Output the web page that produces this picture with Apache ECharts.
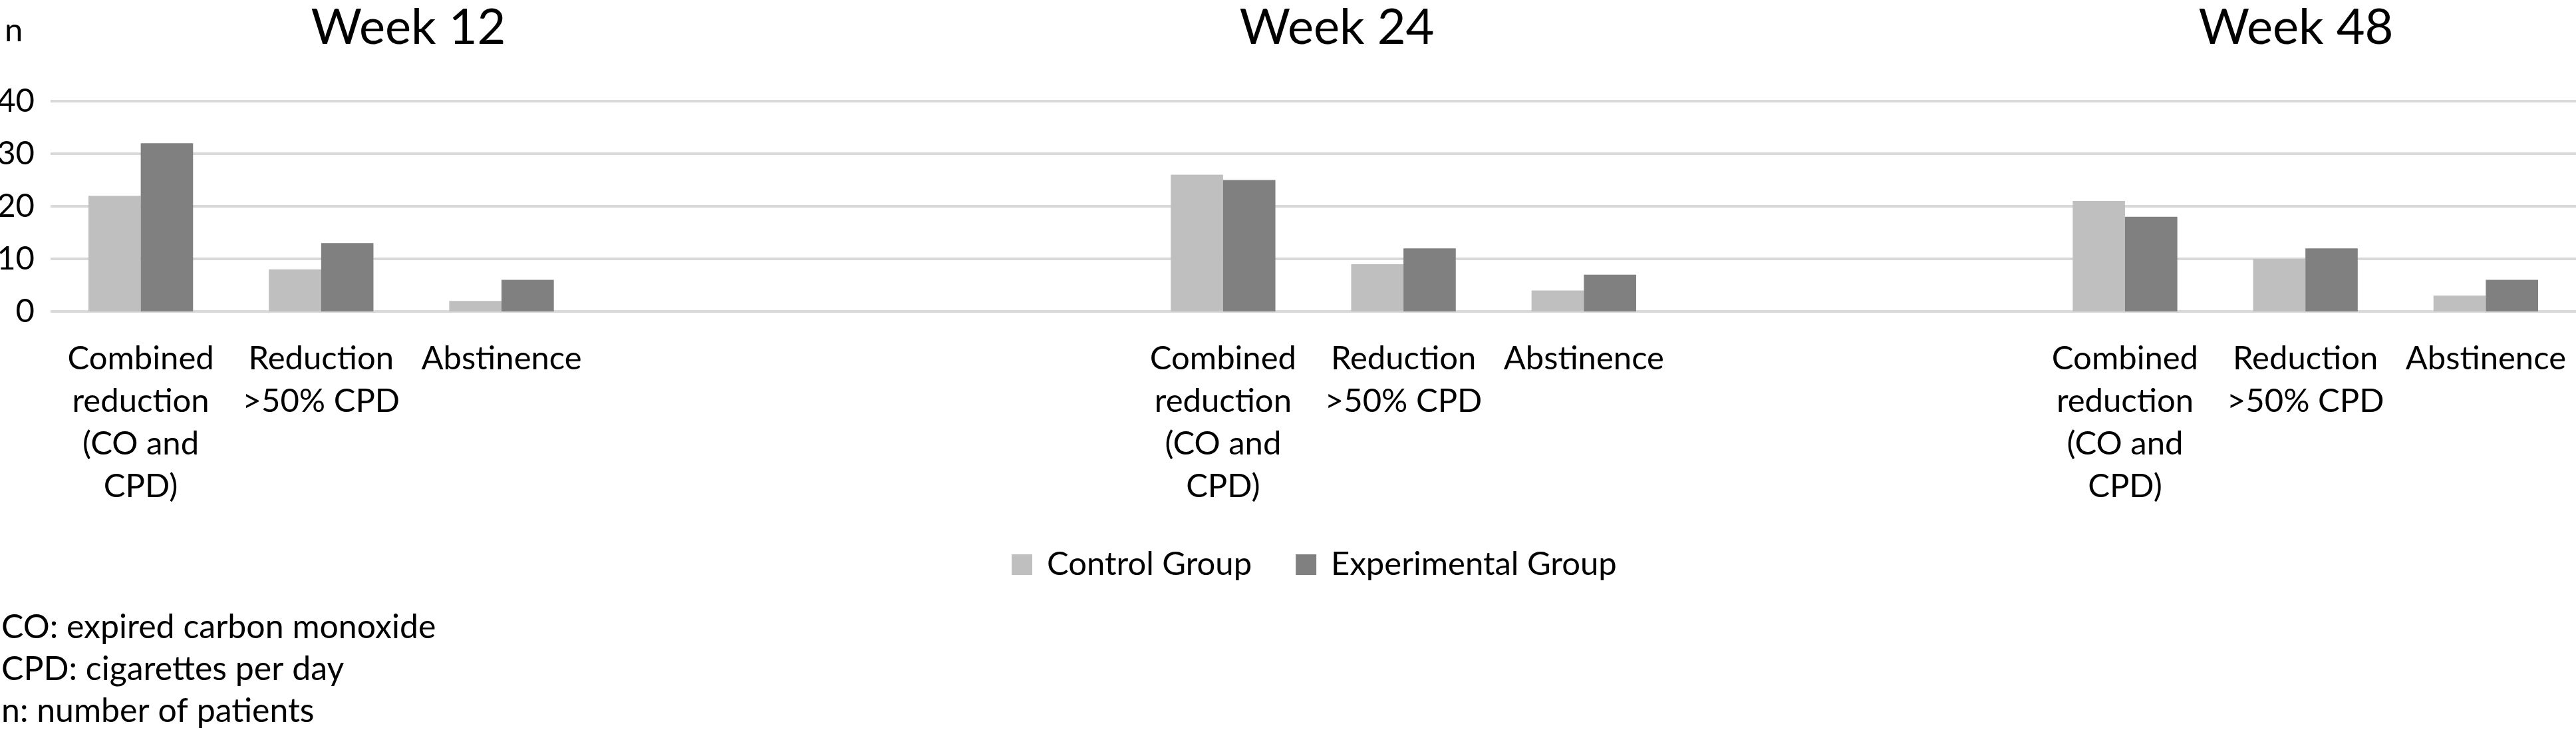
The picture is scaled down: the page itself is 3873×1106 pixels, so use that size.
<!DOCTYPE html>
<html><head><meta charset="utf-8">
<script src="https://cdn.jsdelivr.net/npm/echarts@6/dist/echarts.min.js"></script>
<style>html,body{margin:0;padding:0;background:#fff}#c{width:3873px;height:1106px}</style>
</head><body><div id="c"></div>
<script>
// ---- data ----
const measures = ['Combined\nreduction\n(CO and\nCPD)', 'Reduction\n>50% CPD', 'Abstinence'];
const weeks = ['Week 12', 'Week 24', 'Week 48'];
const seriesNames = ['Control Group', 'Experimental Group'];
const controlWeek12 = [22, 8, 2];
const controlWeek24 = [26, 9, 4];
const controlWeek48 = [21, 10, 3];
const experimentalWeek12 = [32, 13, 6];
const experimentalWeek24 = [25, 12, 7];
const experimentalWeek48 = [18, 12, 6];
const yTicks = [0, 10, 20, 30, 40];
const yAxisName = 'n';
const footnotes = ['CO: expired carbon monoxide', 'CPD: cigarettes per day', 'n: number of patients'];

// ---- layout of category slots (empty slots separate the week panels) ----
const slotStarts = [0, 6, 11];
const slotCount = 14;
const categories = new Array(slotCount).fill('');
const control = new Array(slotCount).fill('-');
const experimental = new Array(slotCount).fill('-');
const controlByWeek = [controlWeek12, controlWeek24, controlWeek48];
const expByWeek = [experimentalWeek12, experimentalWeek24, experimentalWeek48];
slotStarts.forEach((s, w) => {
  measures.forEach((m, i) => {
    categories[s + i] = m;
    control[s + i] = controlByWeek[w][i];
    experimental[s + i] = expByWeek[w][i];
  });
});

const FONT = 'Lato';
const TXT = 49;
const titleX = [614, 2010, 3452];

const chart = echarts.init(document.getElementById('c'), null, {renderer: 'canvas'});
const graphics = [];
weeks.forEach((w, i) => graphics.push({
  type: 'text', x: titleX[i], y: 42,
  style: {text: w, fill: '#000', font: '74px ' + FONT, align: 'center', verticalAlign: 'middle'}
}));
graphics.push({type: 'text', x: 7, y: 46,
  style: {text: yAxisName, fill: '#000', font: TXT + 'px ' + FONT, align: 'left', verticalAlign: 'middle'}});
footnotes.forEach((f, i) => graphics.push({
  type: 'text', x: 2, y: 943 + i * 63,
  style: {text: f, fill: '#000', font: '50px ' + FONT, align: 'left', verticalAlign: 'middle'}
}));

chart.setOption({
  animation: false,
  backgroundColor: '#fff',
  textStyle: {fontFamily: FONT},
  grid: {left: 76, right: 0, top: 152, bottom: 638, containLabel: false, outerBoundsMode: 'none'},
  legend: {
    data: seriesNames, left: 1516, top: 819, icon: 'rect',
    itemWidth: 31, itemHeight: 31, itemGap: 66,
    textStyle: {fontSize: TXT, color: '#000', fontFamily: FONT, padding: [0, 0, 0, 17]}
  },
  xAxis: {
    type: 'category', data: categories,
    axisLine: {show: false}, axisTick: {show: false}, splitLine: {show: false},
    axisLabel: {interval: 0, fontSize: TXT, lineHeight: 64, color: '#000', margin: 39, fontFamily: FONT}
  },
  yAxis: {
    type: 'value', min: yTicks[0], max: yTicks[yTicks.length - 1], interval: yTicks[1] - yTicks[0],
    axisLine: {show: false}, axisTick: {show: false},
    splitLine: {lineStyle: {color: '#D9D9D9', width: 4}},
    axisLabel: {fontSize: TXT, color: '#000', margin: 24, fontFamily: FONT}
  },
  series: [
    {name: seriesNames[0], type: 'bar', data: control, barGap: '0%', barCategoryGap: '42%',
     itemStyle: {color: '#BFBFBF'}},
    {name: seriesNames[1], type: 'bar', data: experimental, barGap: '0%', barCategoryGap: '42%',
     itemStyle: {color: '#808080'}}
  ],
  graphic: graphics
});
</script></body></html>
